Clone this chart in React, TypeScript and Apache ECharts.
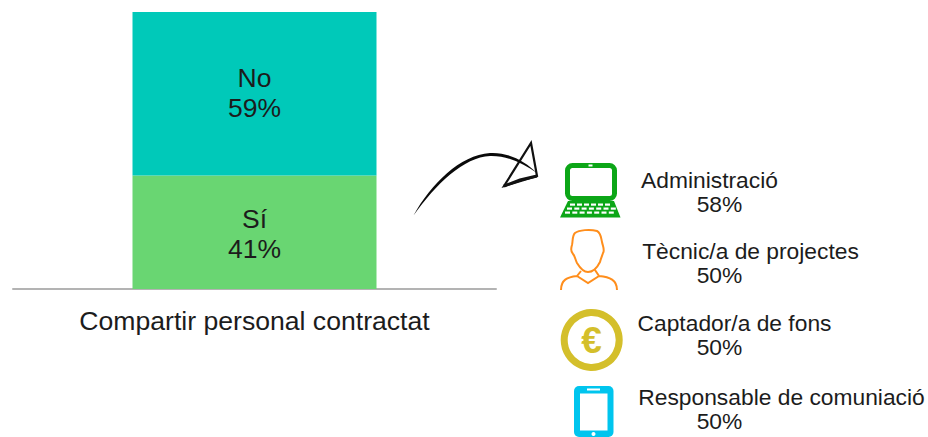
import React, { useEffect, useRef } from "react";
import * as echarts from "echarts";

const categories = ["Compartir personal contractat"];
const seriesNames = ["Sí", "No"];
const siValues = [41];
const noValues = [59];
const roles = ["Administració", "Tècnic/a de projectes", "Captador/a de fons", "Responsable de comuniació"];
const roleValues = ["58%", "50%", "50%", "50%"];
const FONT = '"Liberation Sans", Arial, sans-serif';
const INK = "#1c1c1c";

const roleX = [709.5, 750.5, 734.5, 781.5];
const roleY = [180, 251, 323, 397];
const valueX = [719.5, 719.5, 719.5, 719.5];
const valueY = [203.5, 274.5, 346.5, 420.5];

echarts.graphic.registerShape(
  "personIcon",
  echarts.graphic.extendPath(
    "M575,233 C579,230 590,229 597,231 C601,233 601,238 602,242 C603,247 605,250 603,253 C602,256 601,258 600,262 C597,268 593,272 588,272 C583,272 580,268 577,263 C575,259 575,256 573,254 C571,252 571,248 572,245 C573,241 572,236 575,233 Z M561,290 C561,280 567,277 577,276 L581,271 M577,276 L588,283 L599,276 L595,270 M599,276 C610,277 617,280 617,290",
    {}
  )
);
echarts.graphic.registerShape(
  "arrowCurve",
  echarts.graphic.extendPath(
    "M413.5,215.5 C431,184 460,155 490,153 C508,152 525,161 537,173 C523,163.5 508,155.5 490,156 C464,157 436,184 413.5,215.5 Z",
    {}
  )
);
echarts.graphic.registerShape(
  "arrowHead",
  echarts.graphic.extendPath("M531,143 L537,176 L504,186 Z", {})
);

const keyRows = [
  [570, 203.5, 6],
  [567, 207.5, 7],
  [565, 211.5, 7],
];

function laptop(): any[] {
  const green = "#0CA617";
  const keys: any[] = [];
  keyRows.forEach(([x0, y, n]) => {
    for (let i = 0; i < n; i++) {
      keys.push({
        type: "rect",
        shape: { x: x0 + i * (n === 6 ? 7 : 7.3), y, width: 5, height: 2.2 },
        style: { fill: "#fff" },
      });
    }
  });
  return [
    { type: "rect", shape: { x: 567.5, y: 165.5, width: 47, height: 33, r: 5 }, style: { fill: "#fff", stroke: green, lineWidth: 5 } },
    { type: "rect", shape: { x: 588.5, y: 164.5, width: 4, height: 2 }, style: { fill: "#fff" } },
    { type: "polygon", shape: { points: [[568, 201], [614, 201], [620.5, 217.5], [560, 217.5]] }, style: { fill: green } },
    ...keys,
  ];
}

function otherIcons(): any[] {
  const blue = "#00C5EE";
  return [
    { type: "personIcon", style: { fill: "none", stroke: "#FF8E1C", lineWidth: 2 } },
    { type: "circle", shape: { cx: 591.7, cy: 340, r: 27.5 }, style: { fill: "#fff", stroke: "#D4BF2B", lineWidth: 7 } },
    { type: "text", x: 591.5, y: 340, style: { text: "€", fill: "#D4BF2B", font: `bold 37px ${FONT}`, align: "center", verticalAlign: "middle" } },
    { type: "rect", shape: { x: 574, y: 386, width: 39.5, height: 51, r: 5 }, style: { fill: blue } },
    { type: "rect", shape: { x: 580, y: 393.5, width: 27.5, height: 37 }, style: { fill: "#fff" } },
    { type: "rect", shape: { x: 587, y: 388.5, width: 13, height: 2 }, style: { fill: "#fff" } },
    { type: "circle", shape: { cx: 593.5, cy: 434, r: 2 }, style: { fill: "#fff" } },
  ];
}

function arrow(): any[] {
  return [
    { type: "arrowHead", style: { fill: "none", stroke: "#111", lineWidth: 2.2 } },
    { type: "polyline", shape: { points: [[504, 186], [520, 180], [537, 176]] }, style: { fill: "none", stroke: "#111", lineWidth: 3 } },
    { type: "arrowCurve", style: { fill: "#0a0a0a" } },
  ];
}

function roleTexts(): any[] {
  const out: any[] = [];
  const style = { fill: INK, font: `22.8px ${FONT}`, align: "center", verticalAlign: "middle" };
  roles.forEach((r, i) => {
    out.push({ type: "text", x: roleX[i], y: roleY[i], style: { ...style, text: r } });
    out.push({ type: "text", x: valueX[i], y: valueY[i], style: { ...style, text: roleValues[i] } });
  });
  return out;
}

export default function App() {
  const ref = useRef<HTMLDivElement>(null);
  useEffect(() => {
    const chart = echarts.init(ref.current!, undefined, { renderer: "svg" });
    const label = (name: string, dy: number) => ({
      show: true,
      position: "inside" as const,
      offset: [0, dy],
      formatter: (p: any) => `${name}\n${p.value}%`,
      color: INK,
      fontFamily: FONT,
      fontSize: 26.5,
      lineHeight: 30,
    });
    chart.setOption({
      animation: false,
      backgroundColor: "#fff",
      grid: { left: 13, width: 483, top: 12, bottom: 148 },
      xAxis: {
        type: "category",
        data: categories,
        axisLine: { show: true, lineStyle: { color: "#B3B3B3", width: 2 } },
        axisTick: { show: false },
        axisLabel: { color: INK, fontFamily: FONT, fontSize: 26.6, margin: 18 },
      },
      yAxis: { type: "value", min: 0, max: 100, show: false },
      series: [
        { name: seriesNames[0], type: "bar", stack: "t", barWidth: 244, data: siValues, itemStyle: { color: "#69D672" }, label: label(seriesNames[0], 1.5) },
        { name: seriesNames[1], type: "bar", stack: "t", barWidth: 244, data: noValues, itemStyle: { color: "#00C9B9" }, label: label(seriesNames[1], -0.5) },
      ],
      graphic: [...arrow(), ...laptop(), ...otherIcons(), ...roleTexts()],
    });
    return () => chart.dispose();
  }, []);
  return <div ref={ref} style={{ position: "absolute", left: 0, top: 0, width: 928, height: 437 }} />;
}
